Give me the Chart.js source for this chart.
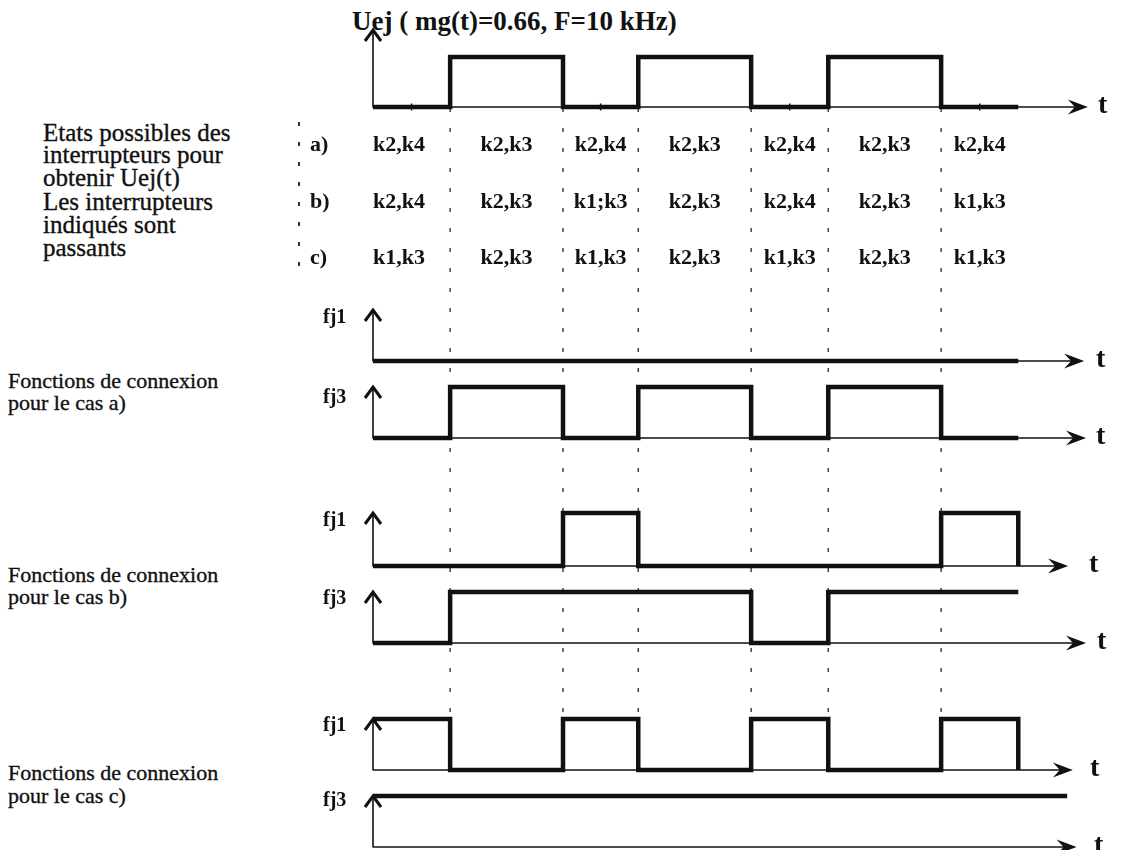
<!DOCTYPE html>
<html>
<head>
<meta charset="utf-8">
<script src="https://cdn.jsdelivr.net/npm/chart.js@4.4.1/dist/chart.umd.min.js"></script>
<style>
  html, body { margin: 0; padding: 0; background: #fff; width: 1122px; height: 850px; overflow: hidden; }
  #page { position: relative; width: 1122px; height: 850px; }
  #page canvas { position: absolute; left: 0; }
  .txt { position: absolute; font-family: "Liberation Serif", "Times New Roman", serif; color: #111; white-space: nowrap; line-height: 1; -webkit-text-stroke: 0.35px #111; }
  .b { font-weight: bold; -webkit-text-stroke: 0; }
  .border { position: absolute; width: 1.5px; background: repeating-linear-gradient(to bottom, #333 0 4px, transparent 4px 20px); }
</style>
</head>
<body>
<div id="page">
  <div class="txt b" style="left:352px; top:8px; font-size:27px;">Uej ( mg(t)=0.66, F=10 kHz)</div>

  <div class="txt" style="left:43px; top:120px; font-size:25px;">Etats possibles des</div>
  <div class="txt" style="left:43px; top:142px; font-size:25px;">interrupteurs pour</div>
  <div class="txt" style="left:43px; top:165px; font-size:25px;">obtenir Uej(t)</div>
  <div class="txt" style="left:43px; top:189px; font-size:25px;">Les interrupteurs</div>
  <div class="txt" style="left:43px; top:212px; font-size:25px;">indiqués sont</div>
  <div class="txt" style="left:43px; top:235px; font-size:25px;">passants</div>

  <div class="txt" style="left:8px; top:370px; font-size:22px;">Fonctions de connexion</div>
  <div class="txt" style="left:8px; top:392px; font-size:22px;">pour le cas a)</div>
  <div class="txt" style="left:8px; top:564px; font-size:22px;">Fonctions de connexion</div>
  <div class="txt" style="left:8px; top:586px; font-size:22px;">pour le cas b)</div>
  <div class="txt" style="left:8px; top:762px; font-size:22px;">Fonctions de connexion</div>
  <div class="txt" style="left:8px; top:785px; font-size:22px;">pour le cas c)</div>

  <div class="border" style="left:298px; top:122px; height:150px;"></div>
</div>
<script>
// Time base in µs (F = 10 kHz, one period = 100 µs)
const switchTimes = [0, 41, 101, 141, 201, 242, 302, 343];
const axisEnd = 379;

// Levels on each interval, last entry = level where the trace stops
const uej   = [0, 1, 0, 1, 0, 1, 0, 0];
const fj1_a = [0, 0, 0, 0, 0, 0, 0, 0];
const fj3_a = [0, 1, 0, 1, 0, 1, 0, 0];
const fj1_b = [0, 0, 1, 0, 0, 0, 1, 0];
const fj3_b = [0, 1, 1, 1, 0, 1, 1, 1];
const fj1_c = [1, 0, 1, 0, 1, 0, 1, 0];
const fj3_c = [1, 1, 1, 1, 1, 1, 1, 1];
const fj3_cEnd = 369;

// Conducting switches for each interval
const rowLabels = ['a)', 'b)', 'c)'];
const statesA = ['k2,k4', 'k2,k3', 'k2,k4', 'k2,k3', 'k2,k4', 'k2,k3', 'k2,k4'];
const statesB = ['k2,k4', 'k2,k3', 'k1;k3', 'k2,k3', 'k2,k4', 'k2,k3', 'k1,k3'];
const statesC = ['k1,k3', 'k2,k3', 'k1,k3', 'k2,k3', 'k1,k3', 'k2,k3', 'k1,k3'];

const INK = '#111';
const SERIF = '"Liberation Serif", "Times New Roman", serif';
const PLOT_LEFT = 373, PLOT_RIGHT = 1086, PAGE_W = 1122;
const page = document.getElementById('page');

function makeCanvas(top, height) {
  const c = document.createElement('canvas');
  c.width = PAGE_W; c.height = height;
  c.style.top = top + 'px';
  c.style.width = PAGE_W + 'px'; c.style.height = height + 'px';
  page.appendChild(c);
  return c;
}

function stepPoints(levels, endTime) {
  return levels.map((v, i) => ({ x: i < levels.length - 1 ? switchTimes[i] : (endTime ?? switchTimes[i]), y: v }));
}

// Arrowed axes + "t" label for each timing panel
const axesPlugin = {
  id: 'timingAxes',
  beforeDatasetsDraw(chart, args, opts) {
    const { ctx, scales: { x, y } } = chart;
    const x0 = x.getPixelForValue(0), y0 = y.getPixelForValue(0);
    const yt = y.getPixelForValue(opts.yTop), xe = x.getPixelForValue(opts.xEnd);
    ctx.save();
    ctx.strokeStyle = INK; ctx.fillStyle = INK;
    ctx.lineWidth = 1.6;
    ctx.beginPath();
    ctx.moveTo(x0, y0 + 0.5); ctx.lineTo(x0, yt + 2);
    ctx.moveTo(x0, y0); ctx.lineTo(xe - 12, y0);
    ctx.stroke();
    // open caret on the vertical axis
    ctx.lineWidth = 3; ctx.lineJoin = 'miter'; ctx.lineCap = 'butt';
    ctx.beginPath();
    ctx.moveTo(x0 - 8, yt + 11); ctx.lineTo(x0, yt); ctx.lineTo(x0 + 8, yt + 11);
    ctx.stroke();
    // barbed arrow head on the time axis
    ctx.beginPath();
    ctx.moveTo(xe, y0); ctx.lineTo(xe - 20, y0 - 7.5); ctx.lineTo(xe - 13, y0); ctx.lineTo(xe - 20, y0 + 7.5);
    ctx.closePath(); ctx.fill();
    ctx.font = 'bold 28px ' + SERIF;
    ctx.textAlign = 'left'; ctx.textBaseline = 'middle';
    ctx.fillText('t', opts.tLeft, y0 - 1);
    ctx.restore();
  }
};

const panels = [
  { levels: uej,   label: null,  high: 57,  base: 107, yTop: 1.54, xEnd: 380,   tLeft: 1098, ticks: true },
  { levels: fj1_a, label: 'fj1', high: 310, base: 361, yTop: 1,    xEnd: 378,   tLeft: 1096, labelY: 317 },
  { levels: fj3_a, label: 'fj3', high: 387, base: 438, yTop: 1,    xEnd: 379,   tLeft: 1096, labelY: 397 },
  { levels: fj1_b, label: 'fj1', high: 513, base: 566, yTop: 1,    xEnd: 369.5, tLeft: 1089, labelY: 520 },
  { levels: fj3_b, label: 'fj3', high: 592, base: 643, yTop: 1,    xEnd: 379,   tLeft: 1097, labelY: 598 },
  { levels: fj1_c, label: 'fj1', high: 719, base: 770, yTop: 1,    xEnd: 372,   tLeft: 1090, labelY: 725 },
  { levels: fj3_c, label: 'fj3', high: 796, base: 847, yTop: 1,    xEnd: 374,   tLeft: 1094, labelY: 800, end: fj3_cEnd },
];

// Dotted guides at every switching instant
(function () {
  const top = 108, bottom = 712;
  const c = makeCanvas(0, 850);
  const guides = switchTimes.slice(1, 7).map(t => ({
    data: [{ x: t, y: 0 }, { x: t, y: 1 }],
    borderColor: '#333', borderWidth: 1.4, borderDash: [4, 16], pointRadius: 0, clip: false
  }));
  new Chart(c, {
    type: 'line',
    data: { datasets: guides },
    options: {
      responsive: false, animation: false, events: [],
      layout: { padding: { left: PLOT_LEFT, right: PAGE_W - PLOT_RIGHT, top: top, bottom: 850 - bottom } },
      scales: { x: { type: 'linear', min: 0, max: axisEnd, display: false }, y: { type: 'linear', min: 0, max: 1, display: false } },
      plugins: { legend: { display: false }, tooltip: { enabled: false } }
    }
  });
})();

// Switch-state table
(function () {
  const top = 117, height = 170;
  const c = makeCanvas(top, height);
  const rows = [statesA, statesB, statesC];
  const cells = [];
  rows.forEach((row, r) => row.forEach((txt, i) => {
    cells.push({ x: (switchTimes[i] + switchTimes[i + 1]) / 2, y: rowLabels[r], text: txt, col: i });
  }));
  const tablePlugin = {
    id: 'stateTable',
    afterDatasetsDraw(chart) {
      const { ctx, scales: { x, y } } = chart;
      const meta = chart.getDatasetMeta(0);
      ctx.save();
      ctx.fillStyle = INK;
      ctx.font = 'bold 22px ' + SERIF;
      ctx.textBaseline = 'middle';
      meta.data.forEach((el, k) => {
        const cell = cells[k];
        if (cell.col === 0) { ctx.textAlign = 'left'; ctx.fillText(cell.text, x.getPixelForValue(0), el.y); }
        else { ctx.textAlign = 'center'; ctx.fillText(cell.text, el.x, el.y); }
      });
      ctx.textAlign = 'left';
      rowLabels.forEach((lab, r) => ctx.fillText(lab, chart.chartArea.left - 63, y.getPixelForValue(r)));
      ctx.restore();
    }
  };
  new Chart(c, {
    type: 'scatter',
    data: { datasets: [{ data: cells, pointRadius: 0 }] },
    options: {
      responsive: false, animation: false, events: [],
      layout: { padding: { left: PLOT_LEFT, right: PAGE_W - PLOT_RIGHT, top: 0, bottom: 0 } },
      scales: {
        x: { type: 'linear', min: 0, max: axisEnd, display: false },
        y: { type: 'category', labels: rowLabels, offset: true, display: false }
      },
      plugins: { legend: { display: false }, tooltip: { enabled: false } }
    },
    plugins: [tablePlugin]
  });
})();

// Timing panels
panels.forEach(p => {
  const padTop = Math.round((p.yTop - 1) * (p.base - p.high)) + 14;
  const padBottom = 12;
  const h = (p.base - p.high) + padTop + padBottom;
  const c = makeCanvas(p.high - padTop, h);
  const datasets = [{
    data: stepPoints(p.levels, p.end), stepped: true,
    borderColor: INK, borderWidth: 4.5, pointRadius: 0, fill: false, clip: false,
    borderJoinStyle: 'miter', borderCapStyle: 'butt'
  }];
  if (p.ticks) {
    const marks = [];
    p.levels.slice(0, -1).forEach((v, i) => { if (v === 0) marks.push({ x: (switchTimes[i] + switchTimes[i + 1]) / 2, y: 0 }); });
    datasets.push({ type: 'scatter', data: marks, pointStyle: 'line', rotation: 90, pointRadius: 3.5, borderWidth: 1.5, borderColor: INK, clip: false });
  }
  new Chart(c, {
    type: 'line',
    data: { datasets },
    options: {
      responsive: false, animation: false, events: [],
      layout: { padding: { left: PLOT_LEFT, right: PAGE_W - PLOT_RIGHT, top: padTop, bottom: padBottom } },
      scales: { x: { type: 'linear', min: 0, max: axisEnd, display: false }, y: { type: 'linear', min: 0, max: 1, display: false } },
      plugins: { legend: { display: false }, tooltip: { enabled: false }, timingAxes: { yTop: p.yTop, xEnd: p.xEnd, tLeft: p.tLeft } }
    },
    plugins: [axesPlugin]
  });
  if (p.label) {
    const d = document.createElement('div');
    d.className = 'txt b';
    d.style.cssText = 'left:323px; top:' + (p.labelY - 11) + 'px; font-size:20px;';
    d.textContent = p.label;
    page.appendChild(d);
  }
});
</script>
</body>
</html>
